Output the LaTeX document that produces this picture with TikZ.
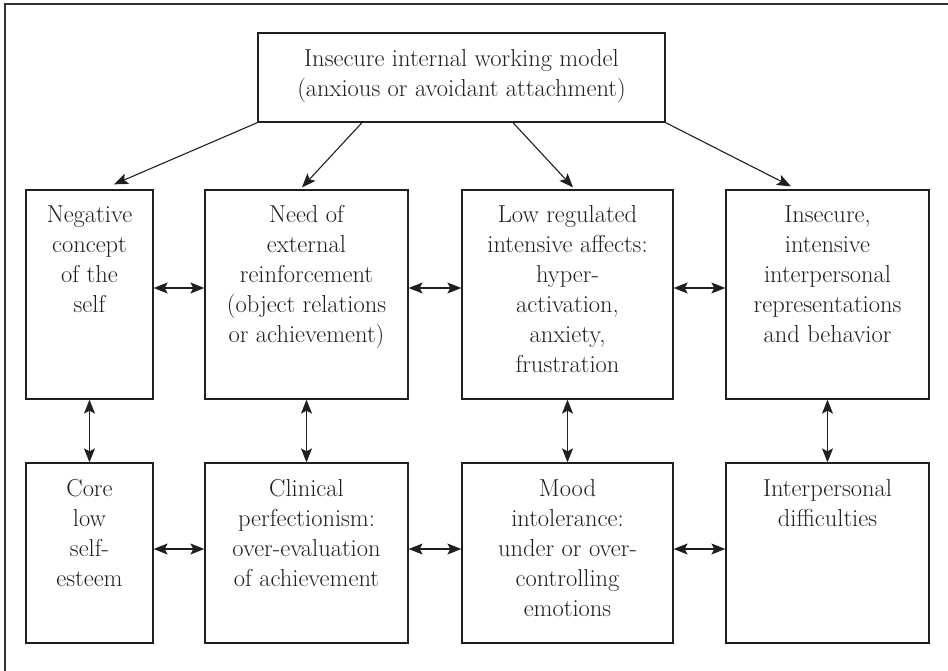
\documentclass[tikz,border=0pt]{standalone}
\usepackage{fontspec}
\usetikzlibrary{arrows.meta}
\begin{document}
\begin{tikzpicture}[x=1pt,y=-1pt,
  box/.style={draw=black!88, line width=1.3pt, rectangle, inner sep=0pt},
  txt/.style={anchor=north, align=center, inner sep=0pt, text=black!88,
              font=\fontsize{24.5}{30}\selectfont\addfontfeature{FakeBold=0.6}},
  tip/.tip={Stealth[length=14pt,width=11pt,inset=3pt]},
  arr/.style={draw=black!88, line width=1.1pt, -tip},
  darr/.style={draw=black!88, line width=1.1pt, tip-tip}]
\useasboundingbox (0,0) rectangle (948,671);
% outer frame (cropped at right and bottom)
\draw[black!80, line width=1.3pt] (5,671) -- (5,4) -- (948,4);

% top box
\node[box, minimum width=407pt, minimum height=89pt] (top) at (461.5,77.5) {};
\node[txt] (ttop) at ([yshift=-12.5pt]top.north)
  {\strut Insecure internal working model\\(anxious or avoidant attachment)};

% row 1
\node[box, minimum width=127pt, minimum height=209pt] (a1) at (89.5,294.5) {};
\node[box, minimum width=203pt, minimum height=209pt] (a2) at (306.5,294.5) {};
\node[box, minimum width=211pt, minimum height=209pt] (a3) at (567.5,294.5) {};
\node[box, minimum width=203pt, minimum height=209pt] (a4) at (827.5,294.5) {};
\node[txt] (ta1) at ([yshift=-12pt]a1.north) {\strut Negative\\concept\\of the\\self};
\node[txt] (ta2) at ([yshift=-12pt]a2.north) {\strut Need of\\external\\reinforcement\\(object relations\\or achievement)};
\node[txt] (ta3) at ([yshift=-12pt]a3.north) {\strut Low regulated\\intensive affects:\\hyper-\\activation,\\anxiety,\\frustration};
\node[txt] (ta4) at ([yshift=-12pt]a4.north) {\strut Insecure,\\intensive\\interpersonal\\representations\\and behavior};

% row 2
\node[box, minimum width=127pt, minimum height=180pt] (b1) at (89.5,553) {};
\node[box, minimum width=203pt, minimum height=180pt] (b2) at (306.5,553) {};
\node[box, minimum width=211pt, minimum height=180pt] (b3) at (567.5,553) {};
\node[box, minimum width=203pt, minimum height=180pt] (b4) at (827.5,553) {};
\node[txt] (tb1) at ([yshift=-13pt]b1.north) {\strut Core\\low\\self-\\esteem};
\node[txt] (tb2) at ([yshift=-13pt]b2.north) {\strut Clinical\\perfectionism:\\over-evaluation\\of achievement};
\node[txt] (tb3) at ([yshift=-13pt]b3.north) {\strut Mood\\intolerance:\\under or over-\\controlling\\emotions};
\node[txt] (tb4) at ([yshift=-13pt]b4.north) {\strut Interpersonal\\difficulties};

% arrows from top box
\draw[arr] (top.south west) -- ([xshift=24.5pt,yshift=5pt]a1.north);
\draw[arr] ([xshift=-99.5pt]top.south) -- ([xshift=-4.5pt,yshift=2pt]a2.north);
\draw[arr] ([xshift=51.5pt]top.south) -- ([xshift=5.5pt,yshift=2pt]a3.north);
\draw[arr] (top.south east) -- ([xshift=-36.5pt,yshift=3pt]a4.north);

% horizontal double arrows, row 1
\draw[darr] ([yshift=6.5pt]a1.east) -- ([yshift=6.5pt]a2.west);
\draw[darr] ([yshift=6.5pt]a2.east) -- ([yshift=6.5pt]a3.west);
\draw[darr] ([yshift=6.5pt]a3.east) -- ([yshift=6.5pt]a4.west);

% horizontal double arrows, row 2
\draw[darr] ([yshift=4pt]b1.east) -- ([yshift=4pt]b2.west);
\draw[darr] ([yshift=4pt]b2.east) -- ([yshift=4pt]b3.west);
\draw[darr] ([yshift=4pt]b3.east) -- ([yshift=4pt]b4.west);

% vertical double arrows
\draw[darr] (a1.south) -- (b1.north);
\draw[darr] (a2.south) -- (b2.north);
\draw[darr] (a3.south) -- (b3.north);
\draw[darr] (a4.south) -- (b4.north);
\end{tikzpicture}
\end{document}
